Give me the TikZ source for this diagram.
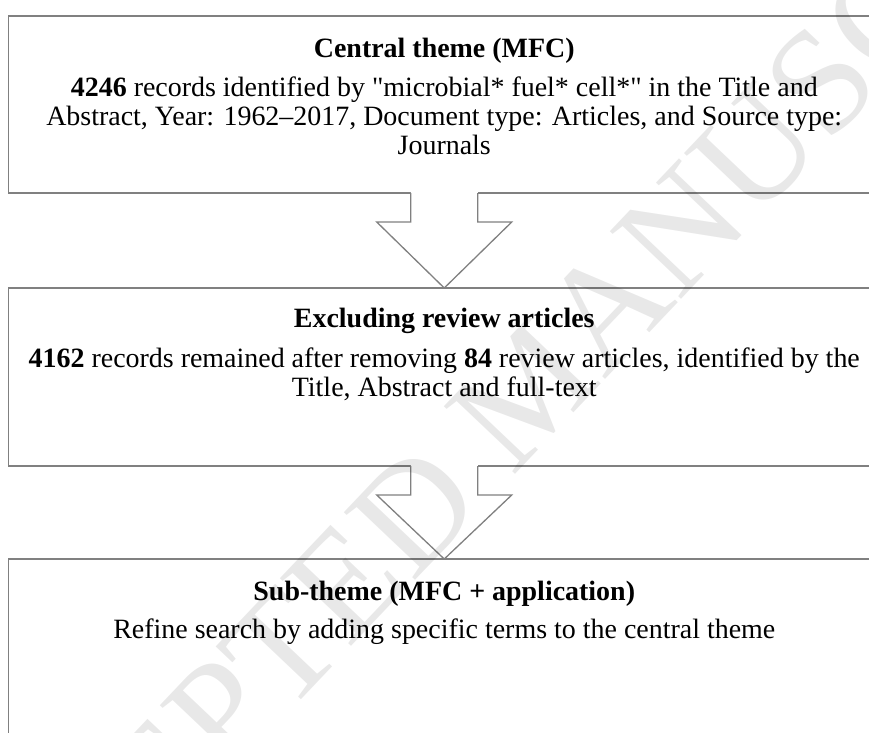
\documentclass[tikz,border=0pt]{standalone}
\usepackage{fontspec}
\setmainfont{Liberation Serif}[Ligatures=TeXOff]
\usetikzlibrary{calc}
\definecolor{linegray}{RGB}{128,128,128}
\begin{document}
\begin{tikzpicture}[x=1pt,y=-1pt,
  stagebox/.style={draw=linegray,line width=1.3pt,rectangle,minimum width=871.5pt,
    minimum height=#1,anchor=north west,inner sep=0pt,outer sep=0pt},
  txt/.style={anchor=base,inner sep=0pt,outer sep=0pt,font=\fontsize{27.95}{29}\selectfont},
  blockline/.style={draw=linegray,line width=1.3pt,line join=miter},
  watermark/.style={rotate=46.5,inner sep=0pt,text=black,text opacity=0.09,
    font=\fontsize{150}{150}\selectfont}]
\useasboundingbox (0,0) rectangle (869,732);

% boxes
\node[stagebox=177pt] (box1) at (8.5,16) {};
\node[stagebox=178pt] (box2) at (8.5,288) {};
\node[stagebox=190pt] (box3) at (8.5,559) {};

% block arrows
\foreach \a/\b in {box1/box2,box2/box3}{
  \fill[white] ($(\a.south)+(-33.5,-1)$) -- ($(\a.south)+(-33.5,29)$) -- ($(\a.south)+(-67.5,29)$)
     -- (\b.north) -- ($(\a.south)+(67.5,29)$) -- ($(\a.south)+(33.5,29)$) -- ($(\a.south)+(33.5,-1)$) -- cycle;
  \draw[blockline] ($(\a.south)+(-33.5,0)$) -- ($(\a.south)+(-33.5,29)$) -- ($(\a.south)+(-67.5,29)$)
     -- (\b.north) -- ($(\a.south)+(67.5,29)$) -- ($(\a.south)+(33.5,29)$) -- ($(\a.south)+(33.5,0)$);
}

% watermark
\node[watermark] (wm) at (530,388) {ACCEPTED MANUSCRIPT};

% box 1 text
\node[txt] (t1a) at ($(box1.north)+(0,41)$) {\textbf{Central theme (MFC)}};
\node[txt] (t1b) at ($(box1.north)+(0,80)$) {\textbf{4246} records identified by "microbial* fuel* cell*" in the Title and};
\node[txt] (t1c) at ($(box1.north)+(0,109)$) {Abstract, Year: 1962–2017, Document type: Articles, and Source type:};
\node[txt] (t1d) at ($(box1.north)+(0,138)$) {Journals};

% box 2 text
\node[txt] (t2a) at ($(box2.north)+(0,39)$) {\textbf{Excluding review articles}};
\node[txt] (t2b) at ($(box2.north)+(0,79)$) {\textbf{4162} records remained after removing \textbf{84} review articles, identified by the};
\node[txt] (t2c) at ($(box2.north)+(0,108)$) {Title, Abstract and full-text};

% box 3 text
\node[txt] (t3a) at ($(box3.north)+(0,41)$) {\textbf{Sub-theme (MFC + application)}};
\node[txt] (t3b) at ($(box3.north)+(0,79)$) {Refine search by adding specific terms to the central theme};
\end{tikzpicture}
\end{document}
